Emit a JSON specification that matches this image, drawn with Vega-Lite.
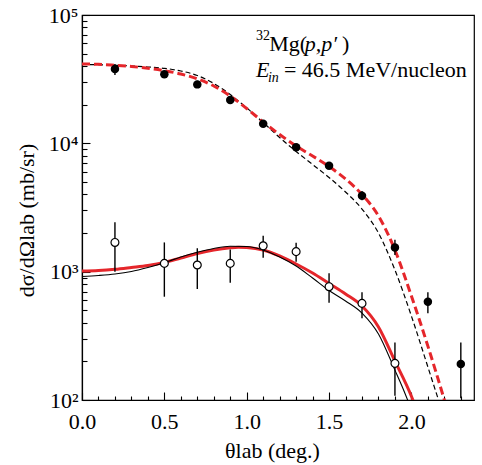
{
  "$schema": "https://vega.github.io/schema/vega-lite/v6.json",
  "width": 392,
  "height": 385,
  "autosize": "none",
  "padding": {"left": 82, "top": 15, "right": 8, "bottom": 65},
  "background": "white",
  "config": {
    "view": {"stroke": "black", "strokeWidth": 1.2},
    "font": "Liberation Serif",
    "axis": {"labelFont": "Liberation Serif", "titleFont": "Liberation Serif"},
    "text": {"font": "Liberation Serif", "color": "black"}
  },
  "datasets": {
    "curves": [
      {"c": "bd", "th": 0.0, "v": 41150}, {"c": "bd", "th": 0.1, "v": 41000}, {"c": "bd", "th": 0.2, "v": 40570},
      {"c": "bd", "th": 0.3, "v": 40060}, {"c": "bd", "th": 0.4, "v": 39350}, {"c": "bd", "th": 0.5, "v": 38430},
      {"c": "bd", "th": 0.6, "v": 36630}, {"c": "bd", "th": 0.7, "v": 33790}, {"c": "bd", "th": 0.8, "v": 29300},
      {"c": "bd", "th": 0.9, "v": 24000}, {"c": "bd", "th": 1.0, "v": 18900}, {"c": "bd", "th": 1.1, "v": 14540},
      {"c": "bd", "th": 1.2, "v": 11100}, {"c": "bd", "th": 1.3, "v": 8640}, {"c": "bd", "th": 1.4, "v": 6842},
      {"c": "bd", "th": 1.5, "v": 5418}, {"c": "bd", "th": 1.6, "v": 4177}, {"c": "bd", "th": 1.7, "v": 3078},
      {"c": "bd", "th": 1.8, "v": 2001}, {"c": "bd", "th": 1.9, "v": 1030}, {"c": "bd", "th": 2.0, "v": 451},
      {"c": "bd", "th": 2.1, "v": 181}, {"c": "bd", "th": 2.2, "v": 72},
      {"c": "rd", "th": 0.0, "v": 41520}, {"c": "rd", "th": 0.1, "v": 41300}, {"c": "rd", "th": 0.2, "v": 40570},
      {"c": "rd", "th": 0.3, "v": 39700}, {"c": "rd", "th": 0.4, "v": 38430}, {"c": "rd", "th": 0.5, "v": 36810},
      {"c": "rd", "th": 0.6, "v": 34700}, {"c": "rd", "th": 0.7, "v": 31840}, {"c": "rd", "th": 0.8, "v": 27980},
      {"c": "rd", "th": 0.9, "v": 23380}, {"c": "rd", "th": 1.0, "v": 18680}, {"c": "rd", "th": 1.1, "v": 14670},
      {"c": "rd", "th": 1.2, "v": 11720}, {"c": "rd", "th": 1.3, "v": 9535}, {"c": "rd", "th": 1.4, "v": 7965},
      {"c": "rd", "th": 1.5, "v": 6600}, {"c": "rd", "th": 1.6, "v": 5275}, {"c": "rd", "th": 1.7, "v": 3994},
      {"c": "rd", "th": 1.8, "v": 2716}, {"c": "rd", "th": 1.9, "v": 1475}, {"c": "rd", "th": 2.0, "v": 646},
      {"c": "rd", "th": 2.1, "v": 263}, {"c": "rd", "th": 2.2, "v": 100}, {"c": "rd", "th": 2.25, "v": 60},
      {"c": "rs", "th": 0.0, "v": 1012}, {"c": "rs", "th": 0.1, "v": 1021}, {"c": "rs", "th": 0.2, "v": 1043},
      {"c": "rs", "th": 0.3, "v": 1078}, {"c": "rs", "th": 0.4, "v": 1117}, {"c": "rs", "th": 0.5, "v": 1179},
      {"c": "rs", "th": 0.6, "v": 1278}, {"c": "rs", "th": 0.7, "v": 1385}, {"c": "rs", "th": 0.8, "v": 1475},
      {"c": "rs", "th": 0.9, "v": 1535}, {"c": "rs", "th": 0.95, "v": 1551}, {"c": "rs", "th": 1.0, "v": 1543},
      {"c": "rs", "th": 1.1, "v": 1475}, {"c": "rs", "th": 1.2, "v": 1325}, {"c": "rs", "th": 1.3, "v": 1148},
      {"c": "rs", "th": 1.4, "v": 976}, {"c": "rs", "th": 1.5, "v": 809}, {"c": "rs", "th": 1.6, "v": 670},
      {"c": "rs", "th": 1.7, "v": 540}, {"c": "rs", "th": 1.8, "v": 371}, {"c": "rs", "th": 1.9, "v": 201},
      {"c": "rs", "th": 2.0, "v": 107}, {"c": "rs", "th": 2.05, "v": 72},
      {"c": "bs", "th": 0.0, "v": 917}, {"c": "bs", "th": 0.1, "v": 934}, {"c": "bs", "th": 0.2, "v": 959},
      {"c": "bs", "th": 0.3, "v": 1003}, {"c": "bs", "th": 0.4, "v": 1078}, {"c": "bs", "th": 0.5, "v": 1175},
      {"c": "bs", "th": 0.6, "v": 1301}, {"c": "bs", "th": 0.7, "v": 1416}, {"c": "bs", "th": 0.8, "v": 1516},
      {"c": "bs", "th": 0.9, "v": 1577}, {"c": "bs", "th": 1.0, "v": 1571}, {"c": "bs", "th": 1.1, "v": 1475},
      {"c": "bs", "th": 1.2, "v": 1301}, {"c": "bs", "th": 1.3, "v": 1107}, {"c": "bs", "th": 1.4, "v": 893},
      {"c": "bs", "th": 1.5, "v": 713}, {"c": "bs", "th": 1.6, "v": 591}, {"c": "bs", "th": 1.7, "v": 476},
      {"c": "bs", "th": 1.8, "v": 327}, {"c": "bs", "th": 1.9, "v": 171}, {"c": "bs", "th": 1.95, "v": 122},
      {"c": "bs", "th": 2.0, "v": 84}
    ],
    "points": [
      {"k": "filled", "th": 0.2, "v": 37900, "lo": 34100, "hi": 41500},
      {"k": "filled", "th": 0.5, "v": 34500, "lo": 32500, "hi": 36500},
      {"k": "filled", "th": 0.7, "v": 28800, "lo": 27000, "hi": 30700},
      {"k": "filled", "th": 0.9, "v": 21800, "lo": 20500, "hi": 23200},
      {"k": "filled", "th": 1.1, "v": 14200, "lo": 13400, "hi": 15000},
      {"k": "filled", "th": 1.3, "v": 9310, "lo": 8800, "hi": 9850},
      {"k": "filled", "th": 1.5, "v": 6700, "lo": 6300, "hi": 7100},
      {"k": "filled", "th": 1.7, "v": 3910, "lo": 3600, "hi": 4250},
      {"k": "filled", "th": 1.9, "v": 1540, "lo": 1350, "hi": 1770},
      {"k": "filled", "th": 2.1, "v": 583, "lo": 474, "hi": 690},
      {"k": "filled", "th": 2.3, "v": 191, "lo": 103, "hi": 280},
      {"k": "open", "th": 0.2, "v": 1690, "lo": 1000, "hi": 2430},
      {"k": "open", "th": 0.5, "v": 1160, "lo": 638, "hi": 1690},
      {"k": "open", "th": 0.7, "v": 1127, "lo": 733, "hi": 1520},
      {"k": "open", "th": 0.9, "v": 1160, "lo": 820, "hi": 1490},
      {"k": "open", "th": 1.1, "v": 1590, "lo": 1285, "hi": 1905},
      {"k": "open", "th": 1.3, "v": 1432, "lo": 1197, "hi": 1680},
      {"k": "open", "th": 1.5, "v": 764, "lo": 573, "hi": 970},
      {"k": "open", "th": 1.7, "v": 566, "lo": 433, "hi": 690},
      {"k": "open", "th": 1.9, "v": 193, "lo": 108, "hi": 280}
    ],
    "notes": [
      {"role": "sup", "th": 1.056, "v": 63800, "t": "32"},
      {"role": "main", "th": 1.137, "v": 52700, "t": "Mg("},
      {"role": "italic", "th": 1.353, "v": 52700, "t": "p,p′"},
      {"role": "main", "th": 1.578, "v": 52700, "t": ")"},
      {"role": "italic", "th": 1.056, "v": 33000, "t": "E"},
      {"role": "sub", "th": 1.129, "v": 30200, "t": "in"},
      {"role": "main", "th": 1.226, "v": 33000, "t": "= 46.5 MeV/nucleon"}
    ]
  },
  "encoding": {
    "x": {
      "field": "th", "type": "quantitative",
      "scale": {"domain": [0, 2.38], "nice": false, "zero": false},
      "axis": {
        "values": [0, 0.1, 0.2, 0.3, 0.4, 0.5, 0.6, 0.7, 0.8, 0.9, 1.0, 1.1, 1.2, 1.3, 1.4, 1.5, 1.6, 1.7, 1.8, 1.9, 2.0, 2.1, 2.2, 2.3],
        "labelExpr": "round(datum.value*10) % 5 == 0 ? format(datum.value, '.1f') : ''",
        "tickSize": {"condition": {"test": "round(datum.value*10) % 5 == 0", "value": -8}, "value": -4},
        "tickColor": "black", "tickWidth": 1.1,
        "domainColor": "black", "domainWidth": 1.2,
        "grid": false,
        "labelFont": "Liberation Serif", "labelFontSize": 22, "labelColor": "black",
        "labelBaseline": "alphabetic", "labelPadding": 36,
        "labelFlush": false, "labelOverlap": false, "labelBound": false,
        "title": "θlab (deg.)",
        "titleFont": "Liberation Serif", "titleFontSize": 22, "titleFontWeight": "normal", "titleColor": "black",
        "titleBaseline": "alphabetic", "titleX": 190, "titleY": 57
      }
    },
    "y": {
      "field": "v", "type": "quantitative",
      "scale": {"type": "log", "domain": [100, 100000], "nice": false},
      "axis": {
        "values": [100, 200, 300, 400, 500, 600, 700, 800, 900, 1000, 2000, 3000, 4000, 5000, 6000, 7000, 8000, 9000, 10000, 20000, 30000, 40000, 50000, 60000, 70000, 80000, 90000, 100000],
        "labelExpr": "datum.value == 100 ? '10²' : datum.value == 1000 ? '10³' : datum.value == 10000 ? '10⁴' : datum.value == 100000 ? '10⁵' : ''",
        "tickSize": {"condition": {"test": "indexof([100, 1000, 10000, 100000], datum.value) >= 0", "value": -8}, "value": -5},
        "tickColor": "black", "tickWidth": 1.1,
        "domainColor": "black", "domainWidth": 1.2,
        "grid": false,
        "labelFont": "Liberation Serif", "labelFontSize": 22, "labelColor": "black",
        "labelPadding": 12,
        "labelFlush": false, "labelOverlap": false, "labelBound": false,
        "title": "dσ/dΩlab (mb/sr)",
        "titleFont": "Liberation Serif", "titleFontSize": 22, "titleFontWeight": "normal", "titleColor": "black",
        "titleBaseline": "alphabetic", "titleX": -49, "titleY": 205, "titleAngle": -90
      }
    }
  },
  "layer": [
    {
      "data": {"name": "curves"},
      "transform": [{"filter": "datum.c == 'bd'"}],
      "mark": {"type": "line", "clip": true, "interpolate": "monotone", "color": "black", "strokeWidth": 1.2, "strokeDash": [5, 3]}
    },
    {
      "data": {"name": "curves"},
      "transform": [{"filter": "datum.c == 'rd'"}],
      "mark": {"type": "line", "clip": true, "interpolate": "monotone", "color": "#e5262b", "strokeWidth": 3, "strokeDash": [8, 4]}
    },
    {
      "data": {"name": "curves"},
      "transform": [{"filter": "datum.c == 'rs'"}],
      "mark": {"type": "line", "clip": true, "interpolate": "monotone", "color": "#e5262b", "strokeWidth": 3}
    },
    {
      "data": {"name": "curves"},
      "transform": [{"filter": "datum.c == 'bs'"}],
      "mark": {"type": "line", "clip": true, "interpolate": "monotone", "color": "black", "strokeWidth": 1.1}
    },
    {
      "data": {"name": "points"},
      "mark": {"type": "rule", "color": "black", "strokeWidth": 1.4, "clip": true},
      "encoding": {"y": {"field": "lo", "type": "quantitative"}, "y2": {"field": "hi"}}
    },
    {
      "data": {"name": "points"},
      "transform": [{"filter": "datum.k == 'filled'"}],
      "mark": {"type": "point", "shape": "circle", "filled": true, "color": "black", "size": 72, "opacity": 1}
    },
    {
      "data": {"name": "points"},
      "transform": [{"filter": "datum.k == 'open'"}],
      "mark": {"type": "point", "shape": "circle", "filled": true, "fill": "white", "stroke": "black", "strokeWidth": 1.2, "size": 62, "opacity": 1}
    },
    {
      "data": {"name": "notes"},
      "transform": [{"filter": "datum.role == 'main'"}],
      "mark": {"type": "text", "align": "left", "baseline": "alphabetic", "fontSize": 22, "font": "Liberation Serif"},
      "encoding": {"text": {"field": "t"}}
    },
    {
      "data": {"name": "notes"},
      "transform": [{"filter": "datum.role == 'italic'"}],
      "mark": {"type": "text", "align": "left", "baseline": "alphabetic", "fontSize": 22, "fontStyle": "italic", "font": "Liberation Serif"},
      "encoding": {"text": {"field": "t"}}
    },
    {
      "data": {"name": "notes"},
      "transform": [{"filter": "datum.role == 'sup'"}],
      "mark": {"type": "text", "align": "left", "baseline": "alphabetic", "fontSize": 14, "font": "Liberation Serif"},
      "encoding": {"text": {"field": "t"}}
    },
    {
      "data": {"name": "notes"},
      "transform": [{"filter": "datum.role == 'sub'"}],
      "mark": {"type": "text", "align": "left", "baseline": "alphabetic", "fontSize": 14, "fontStyle": "italic", "font": "Liberation Serif"},
      "encoding": {"text": {"field": "t"}}
    }
  ]
}
